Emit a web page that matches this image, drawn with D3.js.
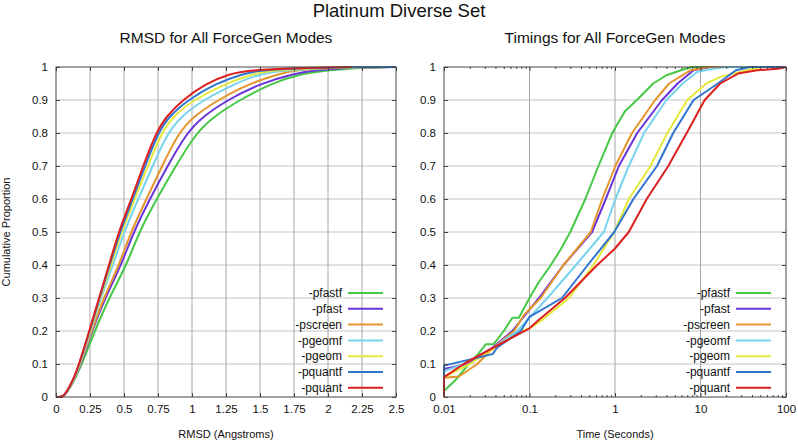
<!DOCTYPE html>
<html lang="en">
<head>
  <meta charset="UTF-8">
  <title>Platinum Diverse Set</title>
  <script src="https://d3js.org/d3.v7.min.js"></script>
  <style>
    body { margin: 0; background: #ffffff; }
    svg { font-family: "Liberation Sans", Arial, Helvetica, sans-serif; }
  </style>
</head>
<body>
  <div id="chart"></div>
  <script>
    // series names + colours (legend order)
    const modes = ["-pfastf", "-pfast", "-pscreen", "-pgeomf", "-pgeom", "-pquantf", "-pquant"];
    const colors = ["#45c845", "#6a33d8", "#e5952c", "#78d3ef", "#e4e83a", "#2f74cf", "#dd1f1f"];

    // left panel: cumulative proportion levels and the RMSD reached at each level
    const rmsdLevels = [0, 0, 0.01, 0.05, 0.1, 0.2, 0.3, 0.4, 0.5, 0.6, 0.7, 0.8, 0.85, 0.9, 0.95, 0.98, 0.99, 0.997, 1, 1];
    const rmsdPfastf   = [0, 0.05, 0.075, 0.135, 0.19, 0.285, 0.39, 0.52, 0.61, 0.74, 0.88, 1.03, 1.16, 1.35, 1.58, 1.8, 2.0, 2.2, 2.45, 2.5];
    const rmsdPfast    = [0, 0.05, 0.074, 0.133, 0.183, 0.265, 0.36, 0.48, 0.57, 0.69, 0.82, 0.96, 1.08, 1.26, 1.5, 1.75, 1.9, 2.1, 2.4, 2.5];
    const rmsdPscreen  = [0, 0.05, 0.073, 0.132, 0.18, 0.262, 0.35, 0.465, 0.55, 0.665, 0.78, 0.90, 1.01, 1.19, 1.42, 1.65, 1.75, 2.0, 2.3, 2.5];
    const rmsdPgeomf   = [0, 0.05, 0.072, 0.13, 0.178, 0.255, 0.33, 0.42, 0.50, 0.605, 0.71, 0.82, 0.92, 1.08, 1.32, 1.5, 1.7, 1.95, 2.3, 2.5];
    const rmsdPgeom    = [0, 0.05, 0.072, 0.13, 0.175, 0.252, 0.325, 0.405, 0.48, 0.58, 0.675, 0.775, 0.86, 1.01, 1.25, 1.45, 1.6, 1.9, 2.3, 2.5];
    const rmsdPquantf  = [0, 0.05, 0.071, 0.127, 0.172, 0.248, 0.32, 0.395, 0.47, 0.565, 0.655, 0.75, 0.83, 0.97, 1.17, 1.38, 1.5, 1.8, 2.2, 2.5];
    const rmsdPquant   = [0, 0.05, 0.07, 0.125, 0.17, 0.245, 0.316, 0.39, 0.46, 0.555, 0.64, 0.735, 0.81, 0.93, 1.1, 1.28, 1.42, 1.75, 2.17, 2.17];
    const rmsdSeries = [rmsdPfastf, rmsdPfast, rmsdPscreen, rmsdPgeomf, rmsdPgeom, rmsdPquantf, rmsdPquant];

    // right panel: [seconds, cumulative proportion]
    const timePfastf = [[0.01, 0], [0.01, 0.018], [0.0135, 0.05], [0.0195, 0.1], [0.025, 0.13], [0.031, 0.16], [0.038, 0.16],
      [0.05, 0.2], [0.063, 0.24], [0.075, 0.24], [0.1, 0.3], [0.105, 0.31], [0.13, 0.35], [0.178, 0.4], [0.235, 0.45],
      [0.3, 0.5], [0.45, 0.6], [0.64, 0.7], [0.93, 0.8], [1.3, 0.865], [1.8, 0.9], [2.8, 0.95], [4, 0.975], [5.9, 0.99], [8, 1], [100, 1]];
    const timePfast = [[0.01, 0], [0.01, 0.085], [0.0186, 0.1], [0.037, 0.15], [0.063, 0.2], [0.1, 0.265], [0.129, 0.3],
      [0.25, 0.4], [0.54, 0.5], [0.78, 0.6], [1.11, 0.7], [1.82, 0.8], [3.55, 0.9], [5.4, 0.95], [8.3, 0.99], [13, 1], [100, 1]];
    const timePscreen = [[0.01, 0], [0.01, 0.058], [0.015, 0.062], [0.0245, 0.1], [0.038, 0.15], [0.066, 0.2], [0.087, 0.25],
      [0.135, 0.3], [0.25, 0.4], [0.52, 0.5], [0.71, 0.6], [1.01, 0.7], [1.58, 0.8], [2.95, 0.9], [4.3, 0.95], [7.6, 0.99], [12.6, 1], [100, 1]];
    const timePgeomf = [[0.01, 0], [0.01, 0.078], [0.017, 0.1], [0.038, 0.15], [0.072, 0.2], [0.1, 0.24], [0.162, 0.3],
      [0.35, 0.4], [0.74, 0.5], [1.01, 0.6], [1.45, 0.7], [2.19, 0.8], [4.0, 0.9], [6.2, 0.95], [9.1, 0.985], [14, 0.995], [20, 1], [100, 1]];
    const timePgeom = [[0.01, 0], [0.01, 0.06], [0.02, 0.1], [0.04, 0.15], [0.08, 0.2], [0.1, 0.208], [0.135, 0.23],
      [0.29, 0.3], [0.56, 0.4], [0.98, 0.5], [1.45, 0.6], [2.6, 0.7], [4.1, 0.8], [7.0, 0.9], [11.7, 0.95], [17, 0.97], [35, 0.99], [54, 1], [100, 1]];
    const timePquantf = [[0.01, 0], [0.01, 0.095], [0.037, 0.13], [0.042, 0.15], [0.079, 0.2], [0.1, 0.243], [0.24, 0.3],
      [0.48, 0.4], [0.98, 0.5], [1.64, 0.6], [3.1, 0.7], [4.8, 0.8], [8.3, 0.9], [16, 0.95], [26, 0.99], [38, 1], [100, 1]];
    const timePquant = [[0.01, 0], [0.01, 0.06], [0.017, 0.1], [0.038, 0.15], [0.1, 0.208], [0.13, 0.235], [0.26, 0.3],
      [0.62, 0.4], [1.0, 0.45], [1.45, 0.5], [2.35, 0.6], [4.2, 0.7], [6.9, 0.8], [11.2, 0.9], [17, 0.95], [27.5, 0.98],
      [46, 0.99], [80, 0.995], [100, 1]];
    const timeSeries = [timePfastf, timePfast, timePscreen, timePgeomf, timePgeom, timePquantf, timePquant];

    // tick values
    const yTicks = [0, 0.1, 0.2, 0.3, 0.4, 0.5, 0.6, 0.7, 0.8, 0.9, 1];
    const rmsdTicks = [0, 0.25, 0.5, 0.75, 1, 1.25, 1.5, 1.75, 2, 2.25, 2.5];
    const timeTicks = [0.01, 0.1, 1, 10, 100];

    const W = 798, H = 448;
    const plotTop = 67, plotBottom = 397;

    const svg = d3.select("#chart").append("svg")
      .attr("width", W)
      .attr("height", H);

    const y = d3.scaleLinear().domain([0, 1]).range([plotBottom, plotTop]);
    const xL = d3.scaleLinear().domain([0, 2.5]).range([56, 396]);
    const xR = d3.scaleLog().domain([0.01, 100]).range([444, 786]);

    // titles
    svg.append("text").attr("x", 399).attr("y", 17).attr("text-anchor", "middle")
      .style("font-size", "18.5px").attr("fill", "#111").text("Platinum Diverse Set");
    svg.append("text").attr("x", 226).attr("y", 43).attr("text-anchor", "middle")
      .style("font-size", "15.5px").attr("fill", "#111").text("RMSD for All ForceGen Modes");
    svg.append("text").attr("x", 615).attr("y", 43).attr("text-anchor", "middle")
      .style("font-size", "15.5px").attr("fill", "#111").text("Timings for All ForceGen Modes");
    svg.append("text").attr("x", 226).attr("y", 438).attr("text-anchor", "middle")
      .style("font-size", "11px").attr("fill", "#111").text("RMSD (Angstroms)");
    svg.append("text").attr("x", 615).attr("y", 438).attr("text-anchor", "middle")
      .style("font-size", "11px").attr("fill", "#111").text("Time (Seconds)");
    svg.append("text").attr("transform", `translate(10, ${(plotTop + plotBottom) / 2}) rotate(-90)`)
      .attr("text-anchor", "middle").style("font-size", "11px").attr("fill", "#111")
      .text("Cumulative Proportion");

    // draw one panel: grid, curves, frame, axes, legend
    function panel(x, xTicks, minorTicks, series, curve, legendRight) {
      const [x0, x1] = x.range();
      const g = svg.append("g");

      // grid
      g.append("g").selectAll("line").data(yTicks.slice(1, -1)).join("line")
        .attr("x1", x0).attr("x2", x1).attr("y1", d => y(d)).attr("y2", d => y(d))
        .attr("stroke", "#c4c4c4").attr("stroke-width", 1);
      g.append("g").selectAll("line").data(xTicks.slice(1, -1)).join("line")
        .attr("x1", d => x(d)).attr("x2", d => x(d)).attr("y1", plotTop).attr("y2", plotBottom)
        .attr("stroke", "#a8a8a8").attr("stroke-width", 1);

      // curves
      const line = d3.line().x(d => x(d[0])).y(d => y(d[1])).curve(curve);
      g.append("g").selectAll("path").data(series).join("path")
        .attr("d", d => line(d))
        .attr("fill", "none")
        .attr("stroke", (d, i) => colors[i])
        .attr("stroke-width", 2)
        .attr("stroke-linejoin", "round");

      // axes with inward ticks
      g.append("g").attr("transform", `translate(0,${plotBottom})`)
        .call(d3.axisBottom(x).tickValues(xTicks).tickFormat(d => d3.format("~g")(d))
          .tickSizeInner(-4).tickSizeOuter(0).tickPadding(8));
      g.append("g").attr("transform", `translate(0,${plotTop})`)
        .call(d3.axisTop(x).tickValues(xTicks).tickFormat("").tickSizeInner(-4).tickSizeOuter(0));
      g.append("g").attr("transform", `translate(${x0},0)`)
        .call(d3.axisLeft(y).tickValues(yTicks).tickFormat(d => d3.format("~g")(d))
          .tickSizeInner(-4).tickSizeOuter(0).tickPadding(8));
      g.append("g").attr("transform", `translate(${x1},0)`)
        .call(d3.axisRight(y).tickValues(yTicks).tickFormat("").tickSizeInner(-4).tickSizeOuter(0));
      if (minorTicks) {
        g.append("g").attr("transform", `translate(0,${plotBottom})`)
          .call(d3.axisBottom(x).tickValues(minorTicks).tickFormat("").tickSizeInner(-2).tickSizeOuter(0));
        g.append("g").attr("transform", `translate(0,${plotTop})`)
          .call(d3.axisTop(x).tickValues(minorTicks).tickFormat("").tickSizeInner(-2).tickSizeOuter(0));
      }
      g.selectAll(".domain").remove();
      g.selectAll(".tick line").attr("stroke", "#444");
      g.selectAll(".tick text").style("font-size", "11.5px").attr("fill", "#111")
        .style("font-family", "'Liberation Sans', Arial, sans-serif");

      // frame
      g.append("rect").attr("x", x0).attr("y", plotTop).attr("width", x1 - x0).attr("height", plotBottom - plotTop)
        .attr("fill", "none").attr("stroke", "#444").attr("stroke-width", 1);

      // legend
      const leg = g.append("g").selectAll("g").data(modes).join("g")
        .attr("transform", (d, i) => `translate(${legendRight},${293 + i * 15.8})`);
      leg.append("text").attr("x", 0).attr("dy", "0.35em").attr("text-anchor", "end")
        .style("font-size", "12px").attr("fill", "#111").text(d => d);
      leg.append("line").attr("x1", 6).attr("x2", 41).attr("y1", 0).attr("y2", 0)
        .attr("stroke", (d, i) => colors[i]).attr("stroke-width", 2);
    }

    const rmsdLines = rmsdSeries.map(xs => xs.map((v, i) => [v, rmsdLevels[i]]));
    panel(xL, rmsdTicks, null, rmsdLines, d3.curveBasis, 342);

    const minor = [];
    [0.01, 0.1, 1, 10].forEach(dec => { for (let k = 2; k <= 9; k++) minor.push(dec * k); });
    panel(xR, timeTicks, minor, timeSeries, d3.curveLinear, 730);
  </script>
</body>
</html>
